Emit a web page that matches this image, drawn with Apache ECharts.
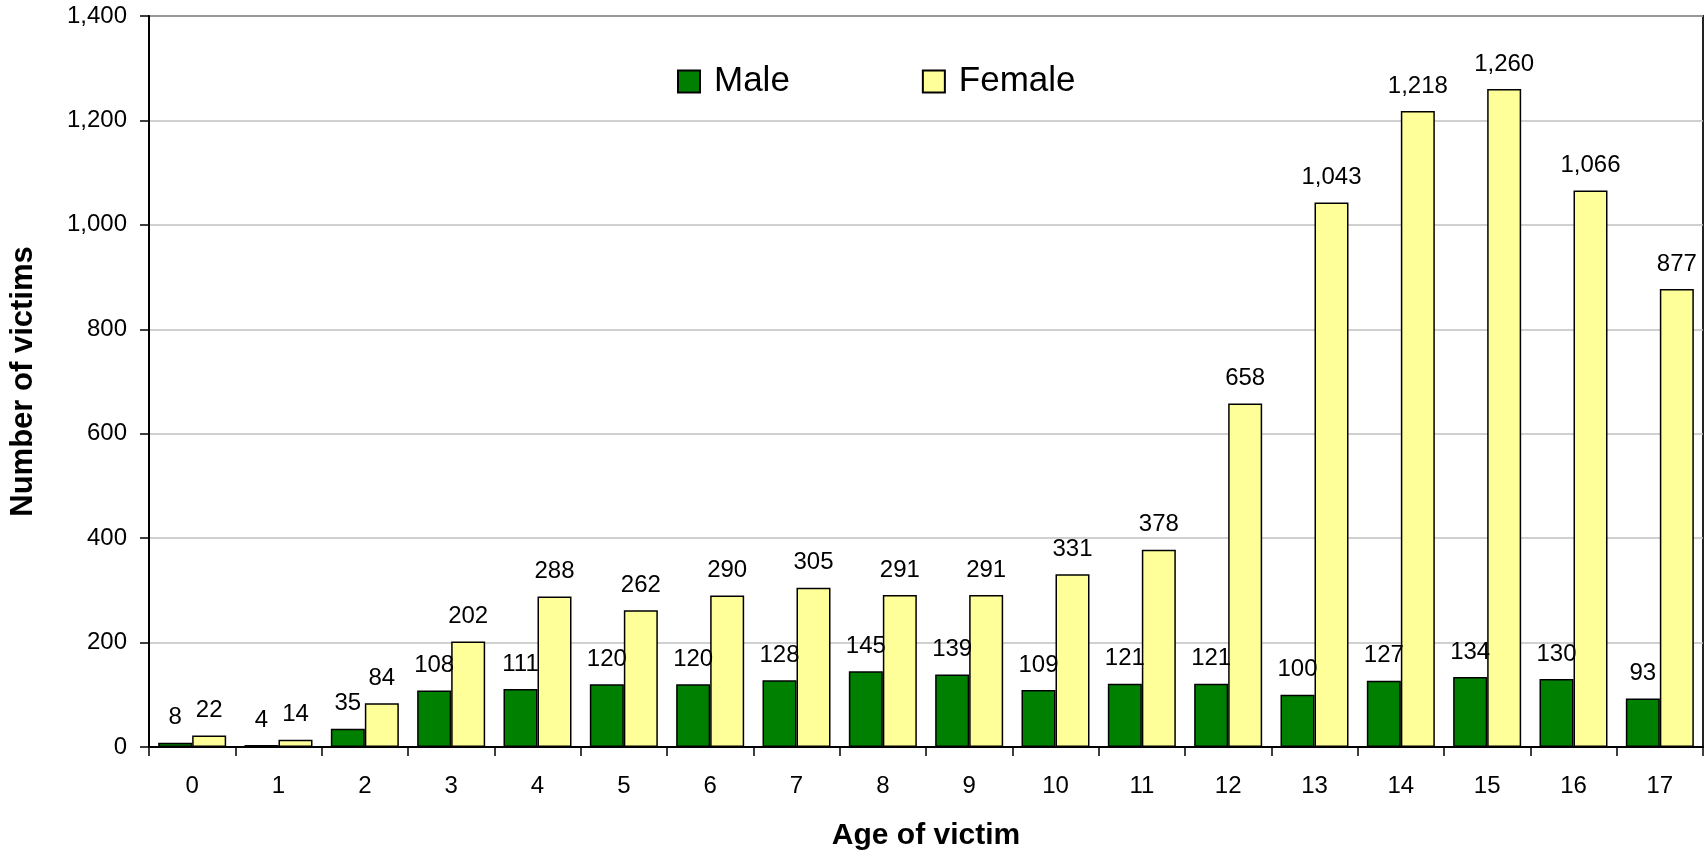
<!DOCTYPE html>
<html>
<head>
<meta charset="utf-8">
<script src="https://cdn.jsdelivr.net/npm/echarts@6/dist/echarts.min.js"></script>
<style>
html,body{margin:0;padding:0;background:#fff;}
#chart{width:1708px;height:856px;}
</style>
</head>
<body>
<div id="chart"></div>
<script>
const ages = ['0','1','2','3','4','5','6','7','8','9','10','11','12','13','14','15','16','17'];
const male = [8,4,35,108,111,120,120,128,145,139,109,121,121,100,127,134,130,93];
const female = [22,14,84,202,288,262,290,305,291,291,331,378,658,1043,1218,1260,1066,877];
const seriesNames = ['Male','Female'];
const yTicks = {min:0, max:1400, interval:200};

const FONT = '"Liberation Sans", Arial, sans-serif';
const chart = echarts.init(document.getElementById('chart'), null, {renderer:'canvas'});
const labelStyle = {
  show:true, position:'top', distance:13, color:'#000', fontFamily:FONT, fontSize:24,
  formatter: p => p.value.toLocaleString('en-US')
};
chart.setOption({
  animation:false,
  backgroundColor:'#fff',
  grid:{left:145, top:16, right:5, bottom:108, show:true, borderColor:'#222', borderWidth:2, backgroundColor:'transparent'},
  legend:{
    data:seriesNames, left:672, top:59, itemWidth:22, itemHeight:22, itemGap:132,
    icon:'rect',
    textStyle:{fontFamily:FONT, fontSize:35, color:'#000', padding:[0,0,0,9]}
  },
  xAxis:{
    type:'category', data:ages,
    name:'Age of victim', nameLocation:'middle', nameGap:74,
    nameTextStyle:{fontFamily:FONT, fontSize:30, fontWeight:'bold', color:'#000'},
    axisLine:{lineStyle:{color:'#000', width:2}},
    axisTick:{show:true, alignWithLabel:false, length:9, lineStyle:{color:'#000', width:1.5}},
    axisLabel:{fontFamily:FONT, fontSize:24, color:'#000', margin:27}
  },
  yAxis:{
    type:'value', min:yTicks.min, max:yTicks.max, interval:yTicks.interval,
    name:'Number of victims', nameLocation:'middle', nameGap:110, nameRotate:90,
    nameTextStyle:{fontFamily:FONT, fontSize:31, fontWeight:'bold', color:'#000'},
    axisLine:{show:true, lineStyle:{color:'#000', width:2}},
    axisTick:{show:true, length:9, lineStyle:{color:'#000', width:1.5}},
    axisLabel:{fontFamily:FONT, fontSize:24, color:'#000', margin:22,
      formatter: v => v.toLocaleString('en-US')},
    splitLine:{show:true, lineStyle:{color:'#c0c0c0', width:1.5}}
  },
  series:[
    {name:seriesNames[0], type:'bar', data:male, barWidth:34, barGap:'0%',
     itemStyle:{color:'#008000', borderColor:'#000', borderWidth:1.5}, label:labelStyle},
    {name:seriesNames[1], type:'bar', data:female, barWidth:34,
     itemStyle:{color:'#FFFF99', borderColor:'#000', borderWidth:1.5}, label:labelStyle}
  ]
});
</script>
</body>
</html>
